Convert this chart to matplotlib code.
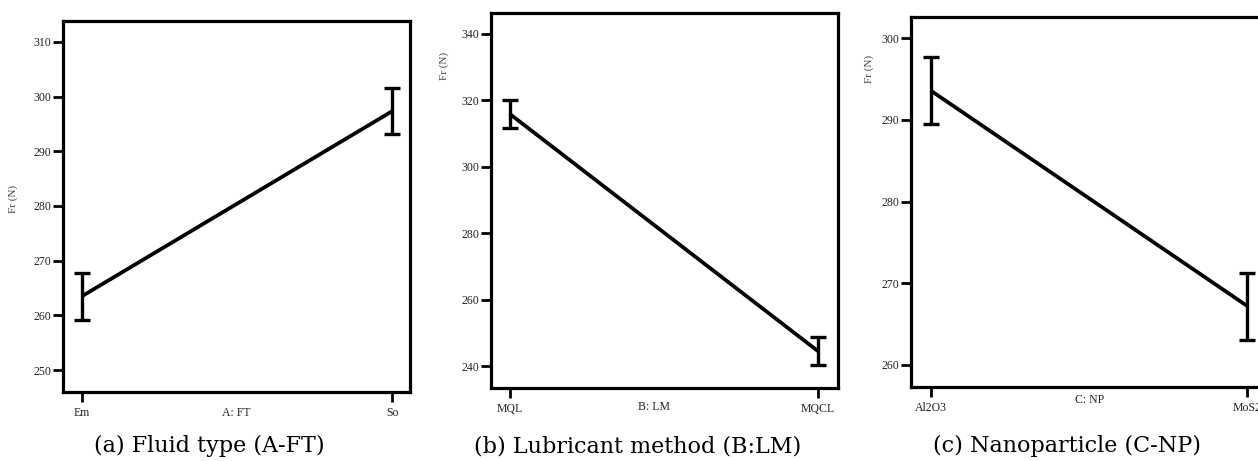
import matplotlib
matplotlib.use("Agg")
import matplotlib.pyplot as plt
import numpy as np

# ---- data ----
cats_a = ["Em", "So"]
mean_a = [263.5, 297.3]
err_a = [4.3, 4.2]

cats_b = ["MQL", "MQCL"]
mean_b = [316.0, 244.6]
err_b = [4.2, 4.2]

cats_c = ["Al2O3", "MoS2"]
mean_c = [293.6, 267.2]
err_c = [4.15, 4.1]

xlabels = ["A: FT", "B: LM", "C: NP"]
captions = ["(a) Fluid type (A-FT)", "(b) Lubricant method (B:LM)", "(c) Nanoparticle (C-NP)"]
yticks_a = [250, 260, 270, 280, 290, 300, 310]
yticks_b = [240, 260, 280, 300, 320, 340]
yticks_c = [260, 270, 280, 290, 300]

W, H = 1258, 461
fig = plt.figure(figsize=(W / 100, H / 100), dpi=100)

def px_axes(l, r, t, b):
    return fig.add_axes([l / W, 1 - b / H, (r - l) / W, (b - t) / H])

panels = [
    dict(box=(63, 410, 21, 392), cats=cats_a, mean=mean_a, err=err_a, yt=yticks_a,
         xlim=(-0.061, 1.058), ylim=(246, 313.8), ylab=(-0.13, 0.52), xlab_y=-0.04,
         cap_x=209),
    dict(box=(491, 838, 13, 388), cats=cats_b, mean=mean_b, err=err_b, yt=yticks_b,
         xlim=(-0.06, 1.065), ylim=(233.5, 346.3), ylab=(-0.12, 0.86), xlab_y=-0.035,
         cap_x=638),
    dict(box=(911, 1268, 17, 387), cats=cats_c, mean=mean_c, err=err_c, yt=yticks_c,
         xlim=(-0.062, 1.065), ylim=(257.3, 302.6), ylab=(-0.105, 0.86), xlab_y=-0.018,
         cap_x=1067),
]

serif = "Liberation Serif"
for i, p in enumerate(panels):
    ax = px_axes(*p["box"])
    x = np.arange(len(p["cats"]))
    ax.plot(x, p["mean"], color="black", lw=2.7, solid_capstyle="butt", zorder=3)
    ax.errorbar(x, p["mean"], yerr=p["err"], fmt="none", ecolor="black",
                elinewidth=2.4, capsize=6, capthick=2.4, zorder=3)
    ax.set_xlim(*p["xlim"])
    ax.set_ylim(*p["ylim"])
    ax.set_xticks(x)
    ax.set_xticklabels(p["cats"], family=serif, fontsize=8.5, color="#222222")
    ax.set_yticks(p["yt"])
    ax.set_yticklabels([str(v) for v in p["yt"]], family=serif, fontsize=8.5, color="#222222")
    ax.tick_params(axis="both", direction="out", length=7, width=2.0, pad=1.5)
    ax.tick_params(axis="x", pad=4)
    for s in ax.spines.values():
        s.set_linewidth(2.3)
    ax.set_ylabel("Fr (N)", family=serif, fontsize=8, color="#444444")
    ax.yaxis.set_label_coords(*p["ylab"])
    ax.text(0.5 if i != 1 else 0.47, p["xlab_y"], xlabels[i], transform=ax.transAxes,
            ha="center", va="top", family=serif, fontsize=8.5, color="#222222")
    fig.text(p["cap_x"] / W, 1 - 446 / H, captions[i], ha="center", va="center",
             family="DejaVu Serif", fontsize=16, color="black")

fig.savefig("out.png", dpi=100)
